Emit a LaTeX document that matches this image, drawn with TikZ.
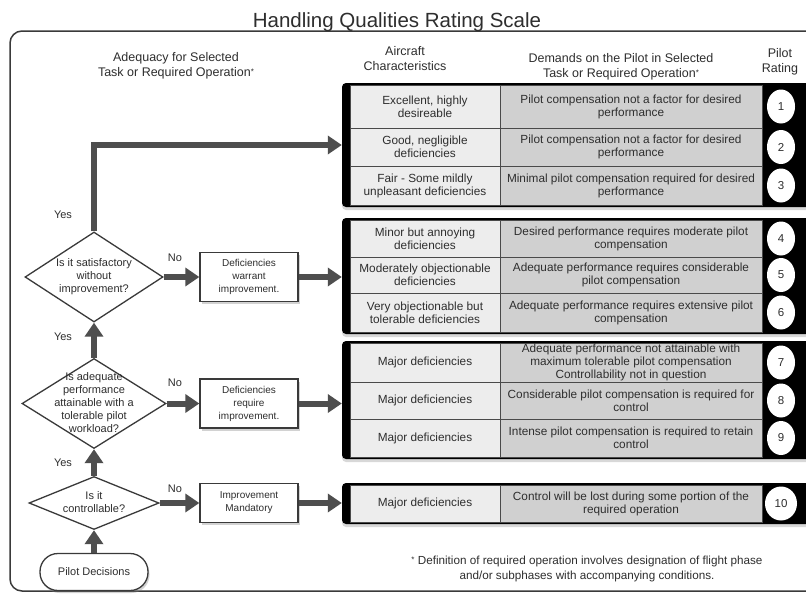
\documentclass[tikz,border=0pt]{standalone}
\usepackage{fontspec}
\setmainfont{Liberation Sans}
\usetikzlibrary{arrows.meta,shapes.geometric,shadows}

\definecolor{ink}{HTML}{2E2E2E}
\definecolor{arrowgray}{HTML}{4E4E4E}
\definecolor{frameline}{HTML}{3A3A3A}
\definecolor{cellpale}{HTML}{EDEDED}
\definecolor{celldark}{HTML}{D0D0D0}
\definecolor{cellrule}{HTML}{4A4A4A}

% text of zero size, so that a shape keeps its given size
\newcommand{\zerobox}[1]{\raisebox{-0.25em}[0pt][0pt]{\makebox[0pt]{\begin{tabular}{@{}c@{}}#1\end{tabular}}}}
% small raised asterisk
\newcommand{\fnmark}{\raisebox{2.5pt}{\fontsize{8}{8}\selectfont *}}

\tikzset{
  txt/.style={text=ink, align=center, font=\fontsize{11}{13}\selectfont},
  head/.style={text=ink, align=center, font=\fontsize{12.5}{15}\selectfont},
  question/.style={diamond, draw=frameline, line width=1.3pt, fill=white, inner sep=0pt,
    text=ink, font=\fontsize{11}{13}\selectfont},
  verdict/.style={rectangle, draw=frameline, line width=1.3pt, fill=white, inner sep=0pt,
    minimum width=98pt, text=ink, align=center, font=\fontsize{10}{13}\selectfont,
    drop shadow={shadow xshift=1.5pt, shadow yshift=-2.5pt, opacity=0.35}},
  startbox/.style={rectangle, rounded corners=18pt, draw=frameline, line width=1.3pt, fill=white,
    minimum width=108pt, minimum height=37pt, text=ink, font=\fontsize{11}{13}\selectfont,
    drop shadow={shadow xshift=1.5pt, shadow yshift=-2.5pt, opacity=0.35}},
  flow/.style={draw=arrowgray, line width=6pt, -{Triangle[width=18pt,length=14pt]}},
  group/.style={rectangle, fill=black, rounded corners=4pt, minimum width=470pt, inner sep=0pt,
    drop shadow={shadow xshift=0pt, shadow yshift=-3pt, opacity=0.3}},
  cella/.style={rectangle, fill=cellpale, draw=cellrule, line width=0.9pt, minimum width=150pt,
    inner sep=0pt, text=ink, align=center, font=\fontsize{11.8}{13}\selectfont},
  cellb/.style={rectangle, fill=celldark, draw=cellrule, line width=0.9pt, minimum width=262pt,
    inner sep=0pt, text=ink, align=center, font=\fontsize{11.8}{13}\selectfont},
  rating/.style={ellipse, fill=white, inner sep=0pt, minimum width=28pt, minimum height=34pt,
    text=ink, font=\fontsize{11.5}{13}\selectfont},
  answer/.style={text=ink, font=\fontsize{11}{13}\selectfont},
}

\begin{document}
\begin{tikzpicture}[x=1pt, y=-1pt]
\useasboundingbox (0,0) rectangle (806,595);
\fill[white] (0,0) rectangle (806,595);

% outer frame, running past the right edge of the page
\draw[frameline, line width=1.5pt, rounded corners=12pt] (10,31) rectangle (840,591);

% title and column headings
\node[anchor=base, text=ink, font=\fontsize{20.5}{22}\selectfont] (title) at (397,27) {Handling Qualities Rating Scale};
\node[head] (hadequacy) at (176,66) {Adequacy for Selected\\Task or Required Operation\fnmark};
\node[head] (haircraft) at (405,59) {Aircraft\\Characteristics};
\node[head] (hdemands) at (621,67) {Demands on the Pilot in Selected\\Task or Required Operation\fnmark};
\node[head] (hrating) at (780,62) {Pilot\\Rating};

% rating groups: black backing
\node[group, minimum height=124pt] (g1) at (577,145) {};
\node[group, minimum height=116pt] (g2) at (577,276) {};
\node[group, minimum height=118pt] (g3) at (577,400) {};
\node[group, minimum height=41pt] (g4) at (577,503.5) {};

% group 1
\node[cella, minimum height=43pt] (a1) at (425,106.5) {Excellent, highly\\desireable};
\node[cellb, minimum height=43pt] (b1r) at (631,106.5) {Pilot compensation not a factor for desired\\performance};
\node[cella, minimum height=38pt] (a2) at (425,147) {Good, negligible\\deficiencies};
\node[cellb, minimum height=38pt] (b2r) at (631,147) {Pilot compensation not a factor for desired\\performance};
\node[cella, minimum height=39pt] (a3) at (425,185.5) {Fair - Some mildly\\unpleasant deficiencies};
\node[cellb, minimum height=39pt] (b3r) at (631,185.5) {Minimal pilot compensation required for desired\\performance};
\node[rating] (n1) at (781,106.5) {1};
\node[rating] (n2) at (781,147) {2};
\node[rating] (n3) at (781,185.5) {3};

% group 2
\node[cella, minimum height=37pt] (a4) at (425,238.5) {Minor but annoying\\deficiencies};
\node[cellb, minimum height=37pt] (b4r) at (631,238.5) {Desired performance requires moderate pilot\\compensation};
\node[cella, minimum height=36pt] (a5) at (425,275) {Moderately objectionable\\deficiencies};
\node[cellb, minimum height=36pt] (b5r) at (631,275) {Adequate performance requires considerable\\pilot compensation};
\node[cella, minimum height=39pt] (a6) at (425,312.5) {Very objectionable but\\tolerable deficiencies};
\node[cellb, minimum height=39pt] (b6r) at (631,312.5) {Adequate performance requires extensive pilot\\compensation};
\node[rating] (n4) at (781,238.5) {4};
\node[rating] (n5) at (781,275) {5};
\node[rating] (n6) at (781,312.5) {6};

% group 3
\node[cella, minimum height=39pt] (a7) at (425,362.5) {Major deficiencies};
\node[cellb, minimum height=39pt] (b7r) at (631,362.5) {Adequate performance not attainable with\\maximum tolerable pilot compensation\\Controllability not in question};
\node[cella, minimum height=37pt] (a8) at (425,400.5) {Major deficiencies};
\node[cellb, minimum height=37pt] (b8r) at (631,400.5) {Considerable pilot compensation is required for\\control};
\node[cella, minimum height=38pt] (a9) at (425,438) {Major deficiencies};
\node[cellb, minimum height=38pt] (b9r) at (631,438) {Intense pilot compensation is required to retain\\control};
\node[rating] (n7) at (781,362.5) {7};
\node[rating] (n8) at (781,400.5) {8};
\node[rating] (n9) at (781,438) {9};

% group 4
\node[cella, minimum height=37pt] (a10) at (425,503.5) {Major deficiencies};
\node[cellb, minimum height=37pt] (b10r) at (631,503.5) {Control will be lost during some portion of the\\required operation};
\node[rating, minimum width=32pt] (n10) at (781,503.5) {10};

% decision chain
\node[question, minimum width=138pt, minimum height=90pt] (d1) at (94,277)
  {\zerobox{Is it satisfactory\\without\\improvement?}};
\node[question, minimum width=144pt, minimum height=90pt] (d2) at (94,403.5)
  {\zerobox{Is adequate\\performance\\attainable with a\\tolerable pilot\\workload?}};
\node[question, minimum width=130pt, minimum height=53pt] (d3) at (94,503)
  {\zerobox{Is it\\controllable?}};
\node[startbox] (pd) at (94,572) {Pilot Decisions};

\node[verdict, minimum height=49pt] (v1) at (249,277) {Deficiencies\\warrant\\improvement.};
\node[verdict, minimum height=49pt] (v2) at (249,403.5) {Deficiencies\\require\\improvement.};
\node[verdict, minimum height=39pt] (v3) at (249,503) {Improvement\\Mandatory};

% connectors
\draw[flow] (pd.north) -- (d3.south);
\draw[flow] (d3.north) -- (d2.south);
\draw[flow] (d2.north) -- (d1.south);
\draw[flow] (d1.north) |- (g1.west);
\draw[flow] (d1.east) -- (v1.west);
\draw[flow] (d2.east) -- (v2.west);
\draw[flow] (d3.east) -- (v3.west);
\draw[flow] (v1.east) -- (v1.east -| g2.west);
\draw[flow] (v2.east) -- (v2.east -| g3.west);
\draw[flow] (v3.east) -- (v3.east -| g4.west);

% branch labels
\node[answer] (yes1) at (63,215) {Yes};
\node[answer] (yes2) at (63,337) {Yes};
\node[answer] (yes3) at (63,463) {Yes};
\node[answer] (no1) at (175,258) {No};
\node[answer] (no2) at (175,383) {No};
\node[answer] (no3) at (175,489) {No};

% footnote
\node[txt, font=\fontsize{11.7}{15}\selectfont] (note) at (587,569)
  {\fnmark\ Definition of required operation involves designation of flight phase\\and/or subphases with accompanying conditions.};
\end{tikzpicture}
\end{document}
